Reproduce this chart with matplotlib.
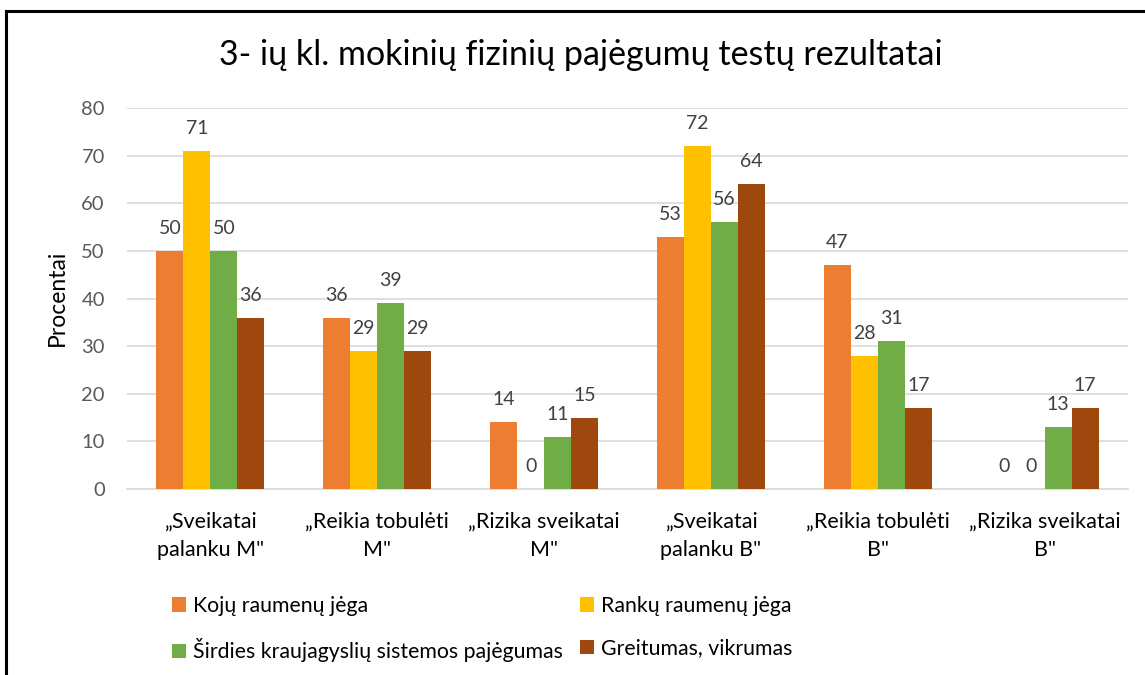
import matplotlib
matplotlib.use("Agg")
import matplotlib.pyplot as plt
import numpy as np
from matplotlib.lines import Line2D
from matplotlib.patches import Patch

plt.rcParams['font.family'] = ['Lato', 'DejaVu Sans']

categories = ['„Sveikatai\npalanku M"', '„Reikia tobulėti\nM"', '„Rizika sveikatai\nM"',
              '„Sveikatai\npalanku B"', '„Reikia tobulėti\nB"', '„Rizika sveikatai\nB"']
series_names = ['Kojų raumenų jėga', 'Rankų raumenų jėga',
                'Širdies kraujagyslių sistemos pajėgumas', 'Greitumas, vikrumas']
kojų = [50, 36, 14, 53, 47, 0]
rankų = [71, 29, 0, 72, 28, 0]
širdies = [50, 39, 11, 56, 31, 13]
greitumas = [36, 29, 15, 64, 17, 17]
series = [kojų, rankų, širdies, greitumas]
colors = ['#ED7D31', '#FFC000', '#70AD47', '#9E480E']
yticks = [0, 10, 20, 30, 40, 50, 60, 70, 80]

W, H = 1145, 675
fig = plt.figure(figsize=(W / 100, H / 100), dpi=100)
ax = fig.add_axes([127 / W, 1 - 489 / H, (1128 - 127) / W, (489 - 108) / H])

x = np.arange(len(categories))
bw = 27 / 166.8
for i, (vals, c) in enumerate(zip(series, colors)):
    pos = x + (i - 1.5) * bw
    ax.bar(pos, vals, width=bw, color=c, zorder=3)
    for p, v in zip(pos, vals):
        ax.annotate(str(v), (p, v), xytext=(0, 10), textcoords='offset points',
                    ha='center', va='bottom', fontsize=14, color='#404040')

ax.set_xlim(-0.5, len(categories) - 0.5)
ax.set_ylim(0, 80)
ax.set_yticks(yticks)
ax.set_yticklabels([str(t) for t in yticks], fontsize=14.5, color='#595959')
ax.set_xticks(x)
ax.set_xticklabels(categories, fontsize=15.5, color='#000000', linespacing=1.55)
ax.tick_params(axis='y', length=0, pad=16)
ax.tick_params(axis='x', length=0, pad=16)
ax.grid(axis='y', color='#D9D9D9', linewidth=1.2, zorder=0)
for s in ['top', 'right', 'left']:
    ax.spines[s].set_visible(False)
ax.spines['bottom'].set_color('#D9D9D9')
ax.spines['bottom'].set_linewidth(1.2)

fig.text(57 / W, 1 - 298 / H, 'Procentai', rotation=90, ha='center', va='center',
         fontsize=16.5, color='#000000')

fig.text(581 / W, 1 - 55 / H, '3- ių kl. mokinių fizinių pajėgumų testų rezultatai',
         ha='center', va='center', fontsize=24.5, color='#000000')

handles = [Patch(facecolor=c, edgecolor='none') for c in colors]
leg_kw = dict(loc='upper left', ncol=1, frameon=False, fontsize=15.3, handlelength=0.68,
              handleheight=0.68, handletextpad=0.3, labelspacing=1.05, borderaxespad=0,
              borderpad=0)
fig.legend([handles[0], handles[2]], [series_names[0], series_names[2]],
           bbox_to_anchor=(172 / W, 1 - 596 / H), **leg_kw)
fig.legend([handles[1], handles[3]], [series_names[1], series_names[3]],
           bbox_to_anchor=(580 / W, 1 - 596 / H), **leg_kw)

# outer border (partially outside the image)
fig.add_artist(Line2D([5.5 / W, 1.01], [1 - 10.5 / H, 1 - 10.5 / H], transform=fig.transFigure,
                      color='black', linewidth=2.2))
fig.add_artist(Line2D([5.5 / W, 5.5 / W], [1 - 10.5 / H, -0.01], transform=fig.transFigure,
                      color='black', linewidth=2.2))

fig.savefig('out.png', dpi=100, facecolor='white')
